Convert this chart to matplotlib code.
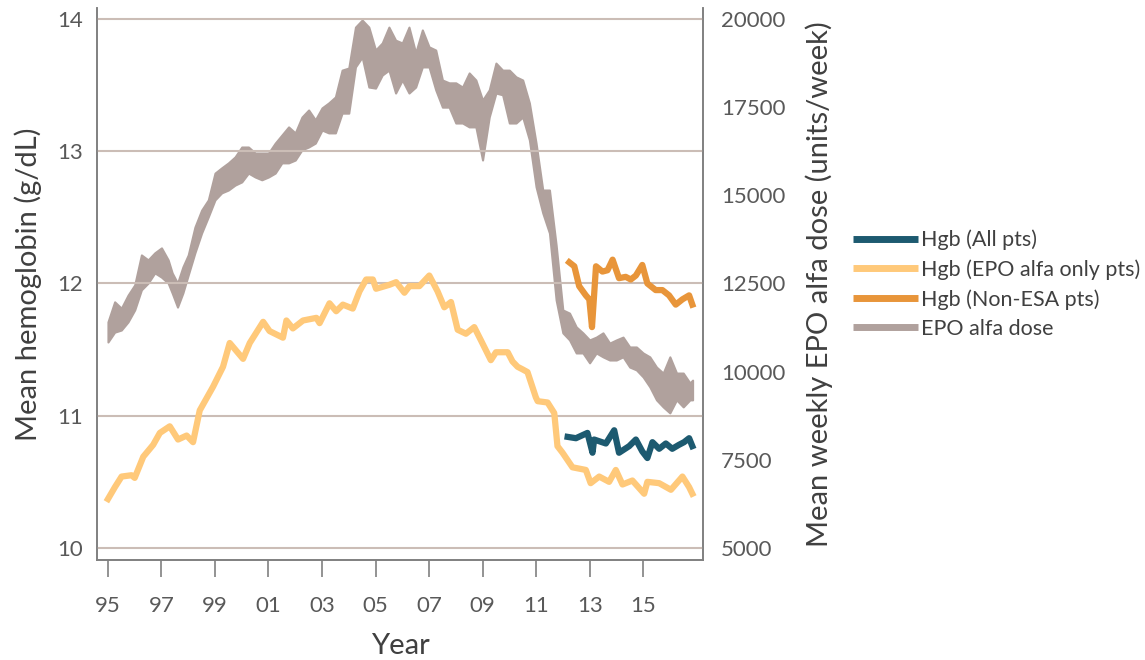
import numpy as np
import matplotlib.pyplot as plt
from matplotlib.lines import Line2D

# ----- Data ----- #

# Hgb, EPO alfa only patients
yr_epo = [1995.0, 1995.26, 1995.51, 1995.88, 1996.0, 1996.32, 1996.69, 1996.94, 1997.31,
          1997.62, 1997.94, 1998.18, 1998.43, 1998.93, 1999.3, 1999.55, 2000.05, 2000.3,
          2000.8, 2001.04, 2001.54, 2001.67, 2001.91, 2002.29, 2002.79, 2002.91, 2003.28,
          2003.53, 2003.78, 2004.15, 2004.4, 2004.65, 2004.9, 2005.02, 2005.52, 2005.77,
          2006.08, 2006.27, 2006.64, 2007.01, 2007.32, 2007.57, 2007.82, 2008.07, 2008.38,
          2008.69, 2008.94, 2009.31, 2009.5, 2009.94, 2010.12, 2010.31, 2010.5, 2010.68,
          2010.99, 2011.06, 2011.43, 2011.68, 2011.8, 2011.99, 2012.36, 2012.86, 2013.04,
          2013.36, 2013.73, 2013.98, 2014.23, 2014.6, 2015.04, 2015.16, 2015.6, 2016.04,
          2016.47, 2016.72, 2016.84]
hgb_epo = [10.37, 10.46, 10.54, 10.55, 10.53, 10.69, 10.78, 10.87, 10.92,
           10.82, 10.85, 10.80, 11.04, 11.22, 11.37, 11.55, 11.43, 11.55,
           11.71, 11.64, 11.59, 11.72, 11.66, 11.72, 11.74, 11.70, 11.85,
           11.79, 11.84, 11.81, 11.94, 12.03, 12.03, 11.96, 11.99, 12.01,
           11.93, 11.98, 11.98, 12.06, 11.94, 11.82, 11.86, 11.65, 11.62,
           11.67, 11.57, 11.42, 11.48, 11.48, 11.41, 11.37, 11.35, 11.33,
           11.14, 11.11, 11.10, 11.02, 10.77, 10.72, 10.61, 10.59, 10.49,
           10.54, 10.50, 10.59, 10.48, 10.51, 10.41, 10.50, 10.49, 10.44,
           10.54, 10.46, 10.41]

# Hgb, all patients
yr_all = [2012.18, 2012.49, 2012.92, 2013.11, 2013.17, 2013.61, 2013.92, 2014.1, 2014.48,
          2014.73, 2014.97, 2015.16, 2015.35, 2015.6, 2015.85, 2016.09, 2016.34, 2016.53,
          2016.72, 2016.84]
hgb_all = [10.84, 10.83, 10.87, 10.72, 10.82, 10.79, 10.89, 10.72, 10.77,
           10.82, 10.73, 10.68, 10.80, 10.75, 10.79, 10.75, 10.78, 10.80,
           10.83, 10.77]

# Hgb, non-ESA patients
yr_non = [2012.24, 2012.43, 2012.61, 2012.86, 2012.99, 2013.09, 2013.24, 2013.48, 2013.67,
          2013.86, 2014.1, 2014.35, 2014.54, 2014.73, 2014.97, 2015.16, 2015.47, 2015.72,
          2015.97, 2016.22, 2016.47, 2016.72, 2016.84]
hgb_non = [12.16, 12.13, 11.98, 11.91, 11.88, 11.67, 12.13, 12.09, 12.10,
           12.18, 12.04, 12.05, 12.03, 12.06, 12.14, 12.00, 11.95, 11.95,
           11.91, 11.84, 11.88, 11.91, 11.84]

# EPO alfa dose, upper and lower edge of the noisy band
yr_dose = [1995.0, 1995.25, 1995.5, 1995.75, 1996.0, 1996.25, 1996.5, 1996.75, 1997.0,
           1997.25, 1997.4, 1997.6, 1997.8, 1998.0, 1998.25, 1998.5, 1998.75, 1999.0,
           1999.25, 1999.5, 1999.75, 2000.0, 2000.25, 2000.5, 2000.75, 2001.0, 2001.25,
           2001.5, 2001.75, 2002.0, 2002.25, 2002.5, 2002.75, 2003.0, 2003.25, 2003.5,
           2003.75, 2004.0, 2004.25, 2004.5, 2004.75, 2005.0, 2005.25, 2005.5, 2005.75,
           2006.0, 2006.25, 2006.5, 2006.75, 2007.0, 2007.25, 2007.5, 2007.75, 2008.0,
           2008.25, 2008.5, 2008.75, 2009.0, 2009.25, 2009.5, 2009.75, 2010.0, 2010.25,
           2010.5, 2010.75, 2011.0, 2011.25, 2011.5, 2011.75, 2012.0, 2012.25, 2012.5,
           2012.75, 2013.0, 2013.25, 2013.5, 2013.75, 2014.0, 2014.25, 2014.5, 2014.75,
           2015.0, 2015.25, 2015.5, 2015.75, 2016.0, 2016.25, 2016.5, 2016.75, 2016.85]
dose_hi = [11410, 11980, 11800, 12170, 12460, 13310, 13170, 13370, 13510,
           13170, 12800, 12510, 12970, 13310, 14100, 14580, 14870, 15630,
           15780, 15920, 16090, 16370, 16370, 16200, 16200, 16200, 16480,
           16710, 16940, 16770, 17220, 17420, 17140, 17480, 17620, 17790,
           18550, 18610, 19770, 19970, 19770, 19120, 19320, 19770, 19400,
           19320, 19770, 19040, 19690, 19210, 19120, 18270, 18190, 18190,
           18070, 18470, 18270, 17700, 17990, 18750, 18550, 18550, 18360,
           18270, 17620, 16480, 15150, 15150, 13590, 11750, 11660, 11270,
           11100, 10900, 10980, 11100, 10810, 10900, 10980, 10700, 10700,
           10530, 10420, 10130, 9960, 10420, 9960, 9960, 9680, 9760]
dose_lo = [10840, 11120, 11180, 11410, 11750, 12320, 12510, 12800, 12680,
           12510, 12230, 11830, 12230, 12740, 13370, 13930, 14390, 14870,
           15070, 15150, 15290, 15380, 15630, 15520, 15440, 15520, 15630,
           15920, 15920, 16000, 16290, 16370, 16480, 16850, 16770, 16770,
           17330, 17330, 18640, 18920, 18070, 18040, 18410, 18550, 17900,
           18270, 17900, 18070, 18640, 18640, 17990, 17500, 17500, 17050,
           17050, 16940, 16940, 16000, 17220, 17900, 17850, 17050, 17050,
           17220, 16570, 15240, 14500, 13930, 12030, 11100, 10900, 10530,
           10530, 10250, 10530, 10420, 10330, 10330, 10420, 10130, 10050,
           9850, 9570, 9200, 9000, 8830, 9200, 9000, 9200, 9200]

year_ticks = [1995, 1997, 1999, 2001, 2003, 2005, 2007, 2009, 2011, 2013, 2015]
year_labels = ['95', '97', '99', '01', '03', '05', '07', '09', '11', '13', '15']
hgb_ticks = [10, 11, 12, 13, 14]
dose_ticks = [5000, 7500, 10000, 12500, 15000, 17500, 20000]

c_all = '#1d5a70'
c_epo = '#ffc97a'
c_non = '#e8953a'
c_dose = '#b0a19d'
c_grid = '#cbbdb6'
c_text = '#595959'

plt.rcParams['font.family'] = ['Lato', 'DejaVu Sans']

# ----- Figure stuff ----- #

fig = plt.figure(figsize=(11.45, 6.6), dpi=100)
ax = fig.add_axes([0.0847, 0.1515, 0.5293, 0.8364])
ax2 = ax.twinx()

ax2.fill_between(yr_dose, dose_lo, dose_hi, color=c_dose, lw=1.5, edgecolor=c_dose)
ax2.set_ylim(4659, 20312)
ax2.set_yticks(dose_ticks)

ax.set_zorder(ax2.get_zorder() + 1)
ax.patch.set_visible(False)

ax.plot(yr_epo, hgb_epo, color=c_epo, lw=4.5)
ax.plot(yr_all, hgb_all, color=c_all, lw=4.5)
ax.plot(yr_non, hgb_non, color=c_non, lw=4.5)

ax.set_xlim(1994.59, 2017.24)
ax.set_ylim(9.909, 14.083)
ax.set_xticks(year_ticks)
ax.set_xticklabels(year_labels)
ax.set_yticks(hgb_ticks)
ax.yaxis.grid(True, color=c_grid, lw=1.5)
ax.set_axisbelow(True)

for a in (ax, ax2):
    a.spines['top'].set_visible(False)
    for s in ('left', 'right', 'bottom'):
        a.spines[s].set_color('#808080')
        a.spines[s].set_linewidth(1.2)
    a.tick_params(labelsize=16, colors=c_text)
ax.tick_params(axis='y', length=0, pad=10)
ax2.tick_params(axis='y', length=0, pad=13)
ax.tick_params(axis='x', length=12, width=1.2, color='#808080', pad=14)

ax.set_xlabel('Year', fontsize=21, color='#404040', labelpad=12)
ax.set_ylabel('Mean hemoglobin (g/dL)', fontsize=21, color='#404040', labelpad=11)
ax2.set_ylabel('Mean weekly EPO alfa dose (units/week)', fontsize=21, color='#404040', labelpad=14)

handles = [Line2D([], [], color=c_all, lw=5, solid_capstyle='butt'),
           Line2D([], [], color=c_epo, lw=5, solid_capstyle='butt'),
           Line2D([], [], color=c_non, lw=5, solid_capstyle='butt'),
           Line2D([], [], color=c_dose, lw=5, solid_capstyle='butt')]
labels = ['Hgb (All pts)', 'Hgb (EPO alfa only pts)', 'Hgb (Non-ESA pts)', 'EPO alfa dose']
leg = fig.legend(handles, labels, loc='upper left', bbox_to_anchor=(0.745, 0.652),
                 frameon=False, fontsize=15.5, handlelength=3.0, handletextpad=0.15,
                 labelspacing=0.42, borderaxespad=0, borderpad=0)
for t in leg.get_texts():
    t.set_color('#404040')

fig.savefig('out.png', dpi=100)
